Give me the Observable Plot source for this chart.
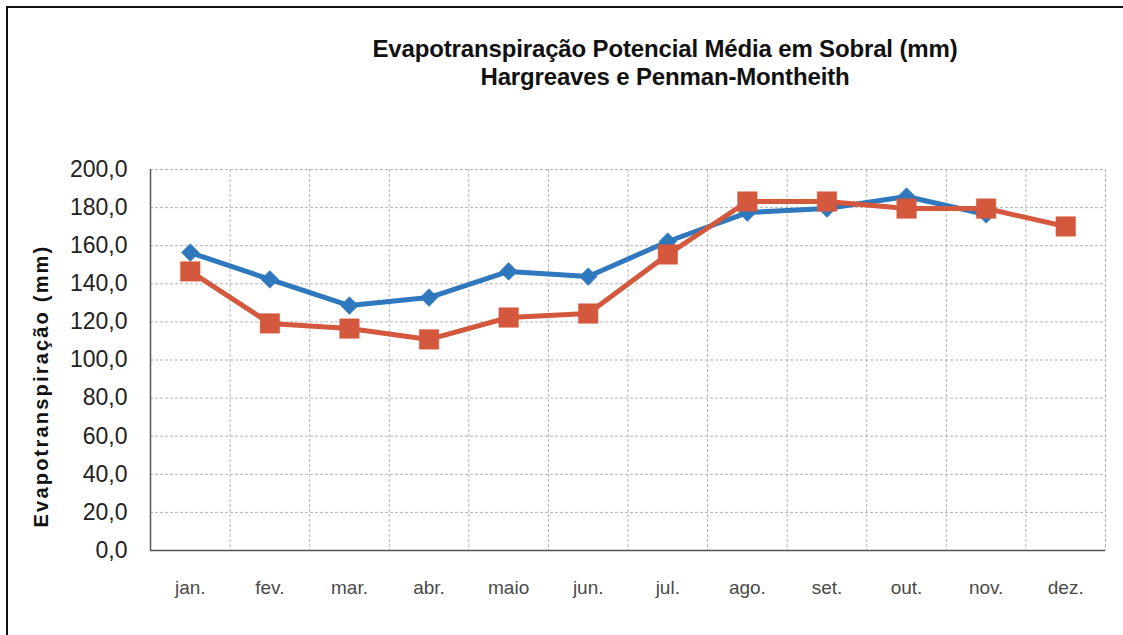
<!DOCTYPE html>
<html>
<head>
<meta charset="utf-8">
<script src="https://cdn.jsdelivr.net/npm/d3@7"></script>
<script src="https://cdn.jsdelivr.net/npm/@observablehq/plot@0.6"></script>
<style>
  html, body { margin: 0; padding: 0; background: #fff; }
  #wrap { position: relative; width: 1123px; height: 635px; overflow: hidden; font-family: "Liberation Sans", Arial, sans-serif; }
  #frame { position: absolute; left: 6px; top: 6px; width: 1130px; height: 640px; border-top: 2px solid #111; border-left: 2px solid #111; box-sizing: border-box; }
  #title { position: absolute; left: 0; top: 35px; width: 1330px; text-align: center; font-weight: bold; font-size: 24px; line-height: 28px; color: #111; letter-spacing: -0.15px; }
  #chart { position: absolute; left: 0; top: 140px; }
</style>
</head>
<body>
<div id="wrap">
  <div id="frame"></div>
  <div id="title">Evapotranspiração Potencial Média em Sobral (mm)<br>Hargreaves e Penman-Montheith</div>
  <div id="chart"></div>
</div>
<script>
const months = ["jan.", "fev.", "mar.", "abr.", "maio", "jun.", "jul.", "ago.", "set.", "out.", "nov.", "dez."];
const blueSeries = [156.4, 142.3, 128.6, 132.8, 146.5, 143.8, 162.2, 177.4, 179.5, 185.8, 176.4, null];
const redSeries = [146.5, 119.2, 116.5, 110.8, 122.3, 124.4, 155.4, 183.2, 183.2, 179.5, 179.5, 170.1];
const yTicks = [0, 20, 40, 60, 80, 100, 120, 140, 160, 180, 200];

const blueData = blueSeries.map((v, i) => ({i, v})).filter(d => d.v != null);
const redData = redSeries.map((v, i) => ({i, v}));
const bounds = d3.range(months.length + 1).map(k => k - 0.5);
const fmt = v => v.toFixed(1).replace(".", ",");

const chart = Plot.plot({
  width: 1123,
  height: 495,
  marginTop: 29,
  marginBottom: 85,
  marginLeft: 150,
  marginRight: 18,
  style: {fontFamily: "Liberation Sans, Arial, sans-serif", background: "transparent"},
  x: {domain: [-0.5, months.length - 0.5], axis: null},
  y: {domain: [0, 200], axis: null},
  marks: [
    Plot.ruleY(yTicks.filter(t => t > 0), {stroke: "#b5b5b5", strokeDasharray: "3,2", strokeWidth: 1}),
    Plot.ruleX(bounds.slice(1), {stroke: "#b5b5b5", strokeDasharray: "3,2", strokeWidth: 1}),
    Plot.ruleX([-0.5], {stroke: "#555", strokeWidth: 1.5}),
    Plot.ruleY([0], {stroke: "#555", strokeWidth: 1.5}),
    Plot.text(yTicks, {x: -0.5, y: d => d, text: fmt, dx: -23, textAnchor: "end", fontSize: 23, fill: "#222"}),
    Plot.text(months, {x: (d, i) => i, y: 0, text: d => d, dy: 37, fontSize: 19, fill: "#4a4a4a"}),
    Plot.line(blueData, {x: "i", y: "v", stroke: "#2f78bd", strokeWidth: 5}),
    Plot.dot(blueData, {x: "i", y: "v", symbol: "diamond2", r: 8, fill: "#2f78bd", stroke: "#2f78bd", strokeWidth: 0.5}),
    Plot.line(redData, {x: "i", y: "v", stroke: "#d4583d", strokeWidth: 5}),
    Plot.dot(redData, {x: "i", y: "v", symbol: "square", r: 11, fill: "#d4583d", stroke: "#d4583d", strokeWidth: 0.5})
  ]
});

const svg = d3.select(chart);
// y-axis title
svg.append("text")
  .attr("transform", "translate(48,246) rotate(-90)")
  .attr("text-anchor", "middle")
  .attr("font-family", "Liberation Sans, Arial, sans-serif")
  .attr("font-weight", "bold")
  .attr("font-size", 20)
  .attr("letter-spacing", "2.2px")
  .attr("fill", "#111")
  .text("Evapotranspiração (mm)");

document.getElementById("chart").appendChild(chart);
</script>
</body>
</html>
